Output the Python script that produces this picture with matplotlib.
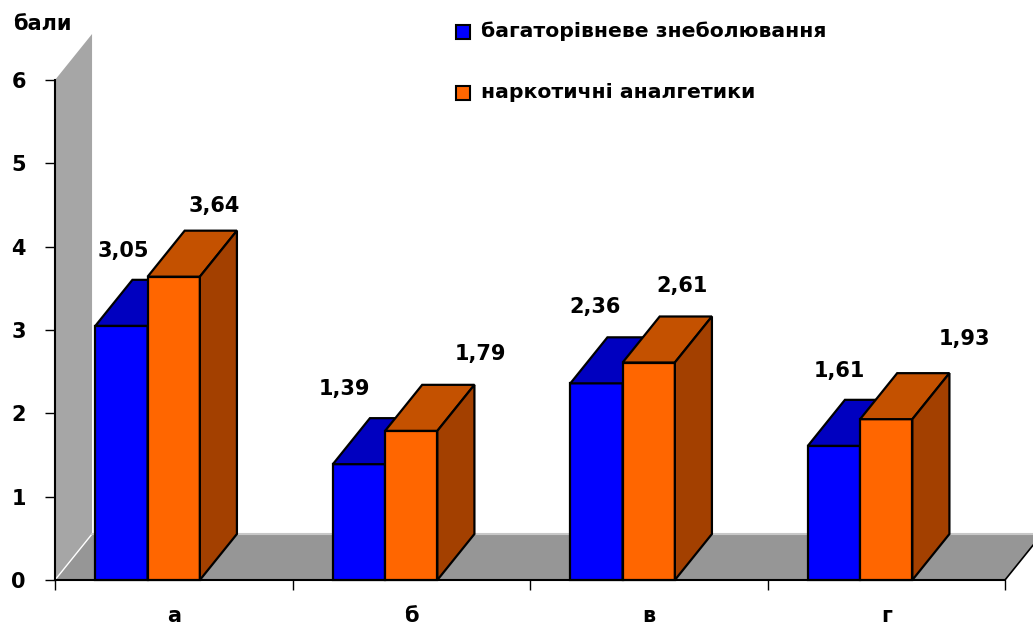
import matplotlib
matplotlib.use("Agg")
import matplotlib.pyplot as plt
from matplotlib.patches import Polygon, Rectangle

# ── data ──────────────────────────────────────────────────────────────────────
categories = ["а", "б", "в", "г"]
series_names = ["багаторівневе знеболювання", "наркотичні аналгетики"]
multilevel = [3.05, 1.39, 2.36, 1.61]
narcotic = [3.64, 1.79, 2.61, 1.93]
y_ticks = [0, 1, 2, 3, 4, 5, 6]

# ── styling ───────────────────────────────────────────────────────────────────
BLUE = ("#0000FF", "#0000C0", "#000080")      # front, top, side
ORANGE = ("#FF6600", "#C45100", "#A34000")
WALL = "#A6A6A6"
FLOOR = "#969696"
DX, DY = 0.156, 0.552          # 3-D depth offset in data units
BAR_W = 0.22
BAR_LEFT = [0.17, 0.39]        # left edge of each series inside a category

# label nudges relative to the front-top centre of each bar
lbl_dx = [[0.006, -0.061, -0.008, 0.021], [0.17, 0.29, 0.14, 0.33]]
lbl_dy = [[0.83, 0.83, 0.84, 0.83], [0.78, 0.85, 0.85, 0.89]]

plt.rcParams["font.family"] = ["DejaVu Sans"]
plt.rcParams["font.weight"] = "bold"

fig = plt.figure(figsize=(10.33, 6.25), dpi=100)
ax = fig.add_axes([55 / 1033, 45 / 625, 950 / 1033, 500 / 625])
ax.set_xlim(0, 4)
ax.set_ylim(0, 6)


def box(ax, x0, h, colors):
    front, top, side = colors
    kw = dict(edgecolor="black", linewidth=1.6, joinstyle="miter", clip_on=False, zorder=3)
    ax.add_patch(Polygon([(x0, 0), (x0 + BAR_W, 0), (x0 + BAR_W, h), (x0, h)], facecolor=front, **kw))
    ax.add_patch(Polygon([(x0, h), (x0 + BAR_W, h), (x0 + BAR_W + DX, h + DY), (x0 + DX, h + DY)],
                         facecolor=top, **kw))
    ax.add_patch(Polygon([(x0 + BAR_W, 0), (x0 + BAR_W + DX, DY), (x0 + BAR_W + DX, h + DY), (x0 + BAR_W, h)],
                         facecolor=side, **kw))


# side wall and floor
ax.add_patch(Polygon([(0, 0), (0, 6), (DX, 6 + DY), (DX, DY)], facecolor=WALL,
                     edgecolor="none", clip_on=False, zorder=1))
ax.add_patch(Polygon([(0, 0), (4, 0), (4 + DX, DY), (DX, DY)], facecolor=FLOOR,
                     edgecolor="none", clip_on=False, zorder=1))
ax.plot([0, DX], [0, DY], color="white", lw=1, clip_on=False, zorder=1.5)
ax.plot([DX, 4 + DX], [DY, DY], color="#C8C8C8", lw=1.5, clip_on=False, zorder=1.5)
ax.plot([4, 4 + DX], [0, DY], color="black", lw=1.2, clip_on=False, zorder=1.5)

# bars and value labels
for s, (vals, cols) in enumerate([(multilevel, BLUE), (narcotic, ORANGE)]):
    for i, v in enumerate(vals):
        x0 = i + BAR_LEFT[s]
        box(ax, x0, v, cols)
        ax.text(x0 + BAR_W / 2 + lbl_dx[s][i], v + lbl_dy[s][i], f"{v:.2f}".replace(".", ","),
                ha="center", va="baseline", fontsize=15, fontweight="bold", color="black", zorder=4)

# axes
for side in ("top", "right"):
    ax.spines[side].set_visible(False)
for side in ("left", "bottom"):
    ax.spines[side].set_linewidth(1.5)
    ax.spines[side].set_zorder(2)
ax.set_yticks(y_ticks)
ax.tick_params(axis="y", length=7, width=1, pad=14, labelsize=15)
ax.set_xticks([0, 1, 2, 3, 4])
ax.set_xticklabels([])
ax.set_xticks([0.5, 1.5, 2.5, 3.5], minor=True)
ax.set_xticklabels(categories, minor=True, fontweight="bold")
ax.tick_params(axis="x", which="major", length=7, width=1)
ax.tick_params(axis="x", which="minor", length=0, pad=19, labelsize=15)
for lab in ax.get_yticklabels():
    lab.set_fontweight("bold")
ax.set_facecolor("none")

fig.text(13 / 1033, 1 - 24 / 625, "бали", fontsize=15, fontweight="bold", va="center", ha="left")

# legend
for row, (name, cols) in enumerate(zip(series_names, [BLUE, ORANGE])):
    yc = 31 + row * 61
    fig.add_artist(Rectangle((456 / 1033, 1 - (yc + 7.5) / 625), 14 / 1033, 14 / 625,
                             transform=fig.transFigure, facecolor=cols[0],
                             edgecolor="black", linewidth=1.5))
    fig.text(481 / 1033, 1 - yc / 625, name, fontsize=14.7, fontweight="bold", va="center", ha="left")

fig.savefig("out.png", dpi=100)
